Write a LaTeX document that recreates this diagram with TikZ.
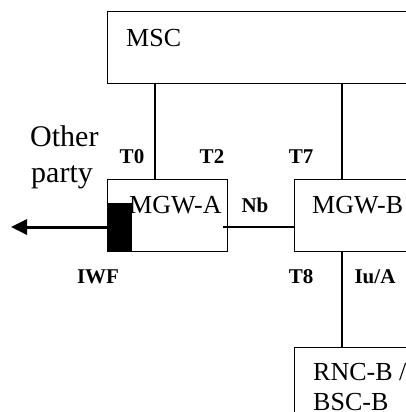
\documentclass[tikz,border=0pt]{standalone}
\usepackage{fontspec}
\setmainfont{Liberation Serif}
\usetikzlibrary{arrows.meta,calc}
\begin{document}
\begin{tikzpicture}[x=1pt,y=-1pt,
  box/.style={draw,line width=1.3pt,rectangle,inner sep=0pt,anchor=north west},
  big/.style={font=\fontsize{26}{30}\selectfont,inner sep=0pt,anchor=base west},
  huge/.style={font=\fontsize{30}{34}\selectfont,inner sep=0pt,anchor=base west},
  lab/.style={font=\fontsize{21}{24}\selectfont\bfseries,inner sep=0pt,anchor=base},
  wire/.style={line width=1.3pt}]
\useasboundingbox (0,0) rectangle (406,412);
\clip (0,0) rectangle (406,412);
% boxes
\node[box,minimum width=330pt,minimum height=72pt] (msc) at (107,11) {};
\node[box,minimum width=120pt,minimum height=72pt] (mgwa) at (107,179) {};
\node[box,minimum width=130pt,minimum height=72pt] (mgwb) at (294,179) {};
\node[box,minimum width=130pt,minimum height=90pt] (rnc) at (294,347) {};
\node[fill=black,draw=black,inner sep=0pt,minimum width=24pt,minimum height=48pt] (iwfblk) at (119,227) {};
% texts
\node[big] (msct) at (126,47) {MSC};
\node[big] (mgwat) at (129,213) {MGW-A};
\node[big] (mgwbt) at (312,213) {MGW-B};
\node[big] (rnct1) at (313,380) {RNC-B /};
\node[big] (rnct2) at (313,410) {BSC-B};
\node[huge] (oth1) at (30,146) {Other};
\node[huge] (oth2) at (31,182) {party};
\node[lab] (t0) at (132,163) {T0};
\node[lab] (t2) at (212,163) {T2};
\node[lab] (t7) at (301,163) {T7};
\node[lab] (nb) at (255,212) {Nb};
\node[lab] (iwf) at (98,283) {IWF};
\node[lab] (t8) at (301,283) {T8};
\node[lab] (iua) at (375,283) {Iu/A};
% connectors
\coordinate (pa) at ([xshift=48pt]mgwa.north west);
\coordinate (pb) at ([xshift=48pt]mgwb.north west);
\coordinate (pr) at ([xshift=48pt]rnc.north west);
\draw[wire] (pa) -- (pa |- msc.south);
\draw[wire] (pb) -- (pb |- msc.south);
\draw[wire] (pb |- mgwb.south) -- (pr);
\coordinate (nbs) at (223,227);
\draw[wire] (nbs) -- (nbs -| mgwb.west);
\coordinate (oth) at (11,227);
\draw[line width=3pt,-{Triangle[length=16pt,width=15pt]}] (iwfblk.west) -- (oth);
\end{tikzpicture}
\end{document}
